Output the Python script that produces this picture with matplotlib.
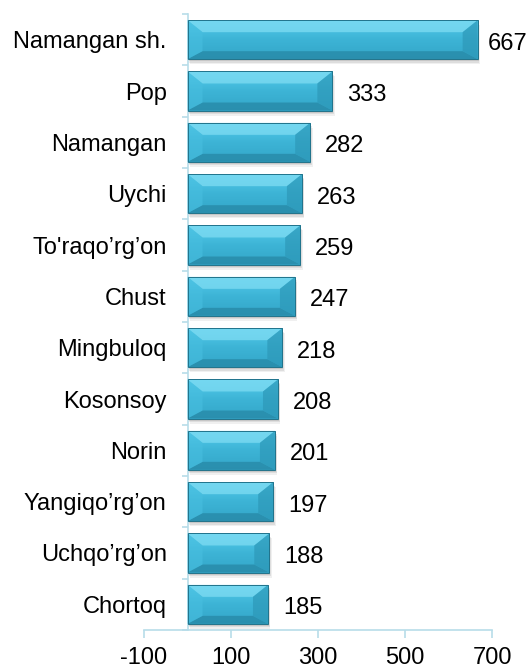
import matplotlib.pyplot as plt
import numpy as np
from matplotlib.patches import Polygon, Rectangle
from matplotlib.colors import LinearSegmentedColormap

plt.rcParams['font.family'] = ['Liberation Sans', 'DejaVu Sans']
plt.rcParams['axes.unicode_minus'] = False

districts = ['Namangan sh.', 'Pop', 'Namangan', 'Uychi', "To'raqo\u2019rg\u2019on", 'Chust',
             'Mingbuloq', 'Kosonsoy', 'Norin', "Yangiqo\u2019rg\u2019on", "Uchqo\u2019rg\u2019on",
             'Chortoq']
values = [667, 333, 282, 263, 259, 247, 218, 208, 201, 197, 188, 185]
xticks = [-100, 100, 300, 500, 700]

fig = plt.figure(figsize=(5.3, 6.68), dpi=100)
ax = fig.add_axes([144 / 530, 1 - 630 / 668, 348 / 530, 616 / 668])

axis_col = '#b7dde9'
fs = 17
h = 0.76
pos = np.arange(len(districts))

# px -> data unit conversions (approx, from layout)
px_x = 800 / 348.0
px_y = 12 / 616.0
bx = 15 * px_x   # side bevel width
bt = 12 * px_y   # top bevel
bb = 8 * px_y    # bottom bevel

ax.set_xlim(-100, 700)
ax.set_ylim(len(districts) - 0.5, -0.5)

cm = LinearSegmentedColormap.from_list('b', ['#56cdec', '#3db4d6', '#33a6c8'])
grad = np.linspace(0, 1, 64).reshape(-1, 1)

for y, v in zip(pos, values):
    top = y - h / 2
    bot = y + h / 2
    # soft shadow
    for k, a in [(5, 0.06), (3.5, 0.08), (2, 0.1)]:
        ax.add_patch(Rectangle((k * px_x * 0.5, top + k * px_y), v, h, color='#000000',
                               alpha=a, lw=0, zorder=1))
    # main face with gradient
    im = ax.imshow(grad, cmap=cm, aspect='auto', extent=(0, v, bot, top),
                   zorder=2, interpolation='bicubic')
    face = Rectangle((0, top), v, h, facecolor='none', edgecolor='none')
    ax.add_patch(face)
    im.set_clip_path(face)
    # bevels
    ax.add_patch(Polygon([(0, top), (v, top), (v - bx, top + bt), (bx, top + bt)],
                         closed=True, facecolor='#7fdcf3', edgecolor='none', alpha=0.75, zorder=3))
    ax.add_patch(Polygon([(0, bot), (v, bot), (v - bx, bot - bb), (bx, bot - bb)],
                         closed=True, facecolor='#2788a6', edgecolor='none', alpha=0.75, zorder=3))
    ax.add_patch(Polygon([(0, top), (bx, top + bt), (bx, bot - bb), (0, bot)],
                         closed=True, facecolor='#48bfe0', edgecolor='none', alpha=0.6, zorder=3))
    ax.add_patch(Polygon([(v, top), (v - bx, top + bt), (v - bx, bot - bb), (v, bot)],
                         closed=True, facecolor='#2d98b8', edgecolor='none', alpha=0.7, zorder=3))
    ax.add_patch(Rectangle((0, top), v, h, facecolor='none', edgecolor='#21738b',
                           lw=0.7, zorder=4))
    lx = min(v + 15 * px_x, 690)
    ax.text(lx, y + 0.08, str(v), va='center', ha='left', fontsize=fs,
            color='black', zorder=5)

ax.set_yticks(pos)
ax.set_yticklabels(districts)
ax.set_yticks(np.arange(len(districts) + 1) - 0.5, minor=True)
ax.tick_params(axis='y', which='major', length=0, pad=15, labelsize=fs)
ax.tick_params(axis='y', which='minor', length=4, color=axis_col, width=1.2)
ax.set_xticks(xticks)
ax.tick_params(axis='x', length=6, color=axis_col, width=1.2, labelsize=fs, pad=6)

for s in ['top', 'right']:
    ax.spines[s].set_visible(False)
ax.spines['left'].set_position(('data', 0))
ax.spines['left'].set_color(axis_col)
ax.spines['left'].set_linewidth(1.2)
ax.spines['bottom'].set_color(axis_col)
ax.spines['bottom'].set_linewidth(1.2)

fig.savefig('out.png', dpi=100)
